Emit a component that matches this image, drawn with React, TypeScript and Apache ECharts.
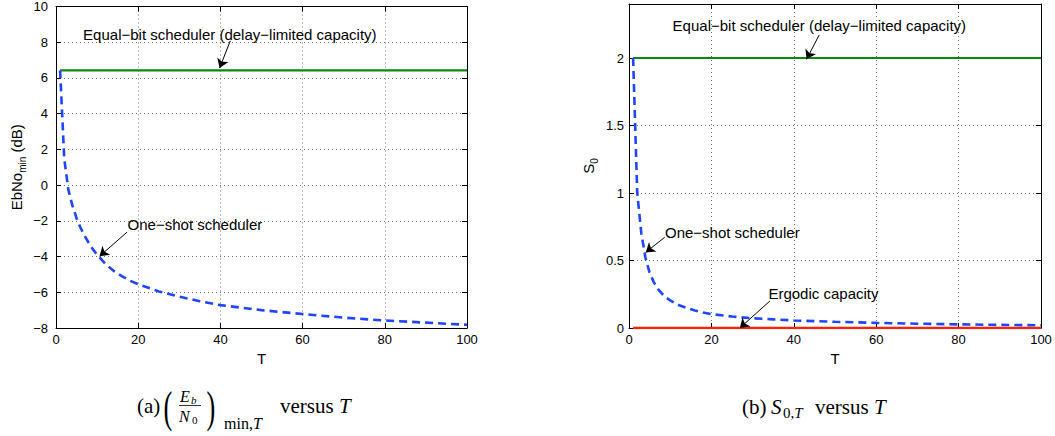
import React, { useEffect, useRef } from 'react';
import * as echarts from 'echarts';

// ---- data ----
const T_STEPS = [1, 2, 3, 4, 5, 6, 7, 8, 9, 10, 12, 14, 16, 18, 20, 25, 30, 35, 40, 50, 60, 70, 80, 90, 100];
const ONESHOT_EBNO = [6.42, 1.5, -0.25, -1.15, -1.85, -2.4, -2.85, -3.25, -3.6, -3.9, -4.4, -4.8, -5.1, -5.35, -5.55, -5.95, -6.25, -6.5, -6.72, -7.0, -7.22, -7.42, -7.58, -7.7, -7.82];
const ONESHOT_S0 = [2.0, 1.0, 0.7, 0.52, 0.41, 0.34, 0.29, 0.255, 0.225, 0.205, 0.17, 0.148, 0.13, 0.115, 0.103, 0.085, 0.072, 0.064, 0.056, 0.046, 0.038, 0.032, 0.027, 0.023, 0.02];
const FLAT_T = [1, 100];
const EQUALBIT_EBNO = [6.42, 6.42];
const EQUALBIT_S0 = [2, 2];
const ERGODIC_S0 = [0, 0];

const X_TICKS = { min: 0, max: 100, interval: 20 };
const Y_A = { min: -8, max: 10, interval: 2 };
const Y_B = { min: 0, max: 2.4, interval: 0.5 };

// annotations: text position and arrow start / end, in data coordinates
const ANNOT_A = [
  { text: 'Equal\u2212bit scheduler (delay\u2212limited capacity)', at: [42.3, 8.46], from: [42.4, 8.07], to: [39.8, 6.55] },
  { text: 'One\u2212shot scheduler', at: [33.8, -2.21], from: [17.3, -2.63], to: [10.6, -3.98] },
];
const ANNOT_B = [
  { text: 'Equal\u2212bit scheduler (delay\u2212limited capacity)', at: [46.2, 2.242], from: [46.15, 2.17], to: [43.1, 1.99] },
  { text: 'One\u2212shot scheduler', at: [25.07, 0.709], from: [8.67, 0.672], to: [4.06, 0.56] },
  { text: 'Ergodic capacity', at: [47.2, 0.256], from: [34.2, 0.2], to: [26.9, 0.0] },
];

const SANS = 'Liberation Sans, Arial, Helvetica, sans-serif';
const SERIF = 'Liberation Serif, Times New Roman, serif';

const zip = (xs: number[], ys: number[]) => xs.map((x, i) => [x, ys[i]]);
const fmt = (v: number) => String(v).replace('-', '\u2212');

const gridLine = { show: true, lineStyle: { color: '#707070', type: [1, 3], width: 1 } };

function xAx(gridIndex: number, position: 'bottom' | 'top', main: boolean) {
  return {
    type: 'value', gridIndex, position, ...X_TICKS,
    axisLine: { show: true, onZero: false, lineStyle: { color: '#000', width: 1 } },
    axisTick: { show: true, inside: true, length: 5, lineStyle: { color: '#000' } },
    axisLabel: { show: main, color: '#000', fontSize: 13, fontFamily: SANS, margin: 5, formatter: fmt },
    splitLine: main ? gridLine : { show: false },
    name: main ? 'T' : '', nameLocation: 'middle', nameGap: 20,
    nameTextStyle: { color: '#000', fontSize: 15, fontFamily: SANS },
  };
}

function yAx(gridIndex: number, position: 'left' | 'right', main: boolean, range: any, name: string, nameGap: number, margin: number, maxLabel: number) {
  return {
    type: 'value', gridIndex, position, ...range,
    axisLine: { show: true, onZero: false, lineStyle: { color: '#000', width: 1 } },
    axisTick: { show: true, inside: true, length: 5, lineStyle: { color: '#000' } },
    axisLabel: {
      show: main, color: '#000', fontSize: 13, fontFamily: SANS, margin,
      formatter: (v: number) => (v > maxLabel + 1e-9 ? '' : fmt(v)),
    },
    splitLine: main ? gridLine : { show: false },
    name: main ? name : '', nameLocation: 'middle', nameGap,
    nameTextStyle: {
      color: '#000', fontFamily: SANS,
      rich: {
        a: { fontSize: 15, fontFamily: SANS, color: '#000', lineHeight: 22, verticalAlign: 'middle' },
        s: { fontSize: 10, fontFamily: SANS, color: '#000', lineHeight: 22, verticalAlign: 'bottom' },
      },
    },
  };
}

function arrows(list: any[]) {
  return {
    silent: true, symbol: ['none', 'arrow'], symbolSize: 9, precision: 4,
    label: { show: false },
    lineStyle: { color: '#000', width: 1, type: 'solid' },
    emphasis: { disabled: true },
    data: list.map((a) => [{ coord: a.from }, { coord: a.to }]),
  };
}

export default function App() {
  const ref = useRef<HTMLDivElement>(null);
  useEffect(() => {
    if (!ref.current) return;
    const chart = echarts.init(ref.current, undefined, { renderer: 'svg' });
    const option: any = {
      animation: false,
      grid: [
        { left: 56, top: 4, width: 411, height: 324 },
        { left: 629, top: 4, width: 412, height: 324 },
      ],
      xAxis: [xAx(0, 'bottom', true), xAx(0, 'top', false), xAx(1, 'bottom', true), xAx(1, 'top', false)],
      yAxis: [
        yAx(0, 'left', true, Y_A, '{a|EbNo}{s|min}{a| (dB)}', 29, 8, 10),
        yAx(0, 'right', false, Y_A, '', 0, 0, 10),
        yAx(1, 'left', true, Y_B, '{a|S}{s|0}', 30, 5, 2),
        yAx(1, 'right', false, Y_B, '', 0, 0, 2),
      ],
      series: [
        {
          type: 'line', xAxisIndex: 0, yAxisIndex: 0, data: zip(FLAT_T, EQUALBIT_EBNO), showSymbol: false,
          lineStyle: { color: '#0a8a0a', width: 2.2 }, z: 3,
        },
        {
          type: 'line', xAxisIndex: 0, yAxisIndex: 0, data: zip(T_STEPS, ONESHOT_EBNO), showSymbol: false,
          lineStyle: { color: '#1f45ff', width: 2.6, type: [8, 5] }, z: 4,
          markLine: arrows(ANNOT_A),
        },
        {
          type: 'line', xAxisIndex: 2, yAxisIndex: 2, data: zip(FLAT_T, EQUALBIT_S0), showSymbol: false,
          lineStyle: { color: '#0a8a0a', width: 2.2 }, z: 3,
        },
        {
          type: 'line', xAxisIndex: 2, yAxisIndex: 2, data: zip(FLAT_T, ERGODIC_S0), showSymbol: false,
          lineStyle: { color: '#ff2200', width: 2.6 }, z: 3,
        },
        {
          type: 'line', xAxisIndex: 2, yAxisIndex: 2, data: zip(T_STEPS, ONESHOT_S0), showSymbol: false,
          lineStyle: { color: '#1f45ff', width: 2.6, type: [8, 5] }, z: 4,
          markLine: arrows(ANNOT_B),
        },
      ],
    };
    chart.setOption(option);

    const txt = (text: string, x: number, y: number, fontSize: number, extra: any = {}) => ({
      type: 'text', x, y, z: 10,
      style: { text, fontSize, fontFamily: SERIF, fill: '#000', align: 'left', verticalAlign: 'middle', ...extra },
    });
    const richSerif = (main: number) => ({
      r: { fontSize: main, fontFamily: SERIF, fill: '#000', color: '#000' },
      i: { fontSize: main, fontFamily: SERIF, fontStyle: 'italic', fill: '#000', color: '#000' },
    });

    const annots: any[] = [];
    ANNOT_A.forEach((a) => {
      const p = chart.convertToPixel({ gridIndex: 0 }, a.at) as number[];
      annots.push({ type: 'text', x: p[0], y: p[1], z: 10, style: { text: a.text, fontSize: 15, fontFamily: SANS, fill: '#000', align: 'center', verticalAlign: 'middle' } });
    });
    ANNOT_B.forEach((a) => {
      const p = chart.convertToPixel({ gridIndex: 1 }, a.at) as number[];
      annots.push({ type: 'text', x: p[0], y: p[1], z: 10, style: { text: a.text, fontSize: 15, fontFamily: SANS, fill: '#000', align: 'center', verticalAlign: 'middle' } });
    });

    const captions: any[] = [
      // (a)
      txt('(a)', 137, 406, 21),
      { type: 'text', x: 168, y: 407, scaleX: 0.6, z: 10, style: { text: '(', fontSize: 44, fontFamily: SERIF, fill: '#000', align: 'center', verticalAlign: 'middle' } },
      txt('E', 180, 396, 16, { fontStyle: 'italic' }),
      txt('b', 191, 400, 11, { fontStyle: 'italic' }),
      { type: 'line', z: 10, shape: { x1: 179, y1: 405.5, x2: 201, y2: 405.5 }, style: { stroke: '#000', lineWidth: 0.8 } },
      txt('N', 179, 416, 16, { fontStyle: 'italic' }),
      txt('0', 192, 420, 11),
      { type: 'text', x: 211, y: 407, scaleX: 0.6, z: 10, style: { text: ')', fontSize: 44, fontFamily: SERIF, fill: '#000', align: 'center', verticalAlign: 'middle' } },
      txt('{r|min,}{i|T}', 224, 423, 16, { rich: richSerif(16) }),
      txt('{r|versus }{i|T}', 280, 406, 21, { rich: richSerif(21) }),
      // (b)
      txt('(b)', 742, 407, 21),
      txt('S', 771, 407, 21, { fontStyle: 'italic' }),
      txt('{r|0,}{i|T}', 783, 413, 15, { rich: richSerif(15) }),
      txt('{r|versus }{i|T}', 815, 407, 21, { rich: richSerif(21) }),
    ];

    chart.setOption({ graphic: [...annots, ...captions] });
    return () => chart.dispose();
  }, []);
  return <div ref={ref} style={{ position: 'absolute', left: 0, top: 0, width: 1055, height: 436, background: '#fff' }} />;
}
